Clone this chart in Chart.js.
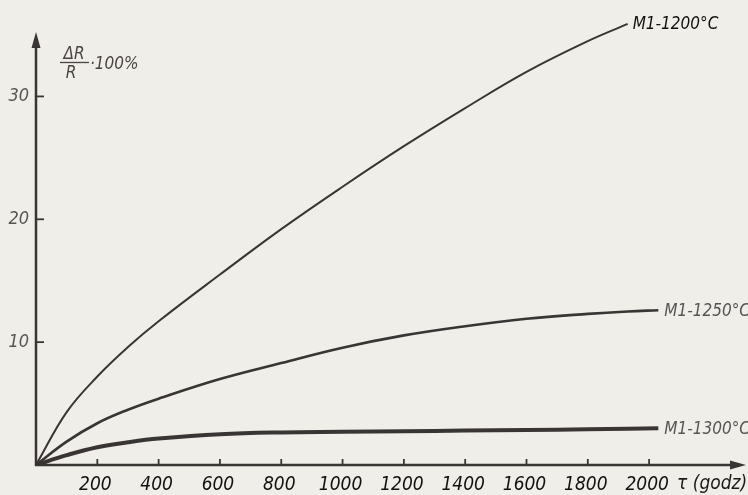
<!DOCTYPE html>
<html>
<head>
<meta charset="utf-8">
<script src="https://cdn.jsdelivr.net/npm/chart.js@4/dist/chart.umd.min.js"></script>
<style>
html,body{margin:0;padding:0;background:#f0eee8;}
#wrap{width:748px;height:495px;position:relative;}
</style>
</head>
<body>
<div id="wrap"><canvas id="c" width="748" height="495"></canvas></div>
<script>
// hours (tau)
const hours = [0, 100, 200, 300, 400, 600, 800, 1000, 1200, 1400, 1600, 1800, 1930, 2030];
// dR/R * 100 %
const m1_1200 = [0, 4.3, 7.2, 9.6, 11.7, 15.5, 19.2, 22.65, 25.95, 29.05, 32.0, 34.5, 35.9];
const m1_1250 = [0, 1.9, 3.4, 4.5, 5.4, 7.0, 8.3, 9.55, 10.55, 11.3, 11.9, 12.3, 12.5, 12.6];
const m1_1300 = [0, 0.8, 1.45, 1.85, 2.15, 2.5, 2.65, 2.7, 2.75, 2.8, 2.85, 2.9, 2.95, 3.0];
const xTickLabels = [200, 400, 600, 800, 1000, 1200, 1400, 1600, 1800, 2000];
const yTickLabels = [10, 20, 30];
const seriesNames = ['M1-1200°C', 'M1-1250°C', 'M1-1300°C'];

const INK = '#3a3535';
const FONT = '"DejaVu Sans Condensed", "DejaVu Sans", sans-serif';

function pts(vals){ return vals.map((v,i)=>({x:hours[i], y:v})); }

const decor = {
  id:'decor',
  beforeDraw(chart){
    const c = chart.ctx;
    c.save();
    c.fillStyle = '#f0eee8';
    c.fillRect(0,0,chart.width,chart.height);
    c.restore();
  },
  afterDraw(chart){
    const c = chart.ctx, xs = chart.scales.x, ys = chart.scales.y;
    const x0 = xs.getPixelForValue(0), y0 = ys.getPixelForValue(0);
    c.save();
    c.strokeStyle = INK; c.fillStyle = INK; c.lineWidth = 2.5;
    // y axis
    const yTop = 32;
    c.beginPath(); c.moveTo(x0, y0+1); c.lineTo(x0, yTop+12); c.stroke();
    c.beginPath(); c.moveTo(x0, yTop); c.lineTo(x0-4.5, yTop+16); c.lineTo(x0+4.5, yTop+16); c.closePath(); c.fill();
    // x axis
    const xEnd = xs.right;
    c.beginPath(); c.moveTo(x0-1, y0); c.lineTo(xEnd-12, y0); c.stroke();
    c.beginPath(); c.moveTo(xEnd, y0); c.lineTo(xEnd-16, y0-4.5); c.lineTo(xEnd-16, y0+4.5); c.closePath(); c.fill();
    // tick marks
    c.lineWidth = 1.8;
    xTickLabels.forEach(v=>{ const px = xs.getPixelForValue(v); c.beginPath(); c.moveTo(px, y0); c.lineTo(px, y0-6); c.stroke(); });
    yTickLabels.forEach(v=>{ const py = ys.getPixelForValue(v); c.beginPath(); c.moveTo(x0, py); c.lineTo(x0+8, py); c.stroke(); });
    // axis titles
    c.font = 'italic 17px ' + FONT;
    c.textBaseline = 'alphabetic'; c.textAlign = 'center';
    c.fillStyle = '#4a4444';
    c.fillText('ΔR', 74, 59);
    c.fillText('R', 71, 78);
    c.lineWidth = 1.3; c.strokeStyle = '#4a4444';
    c.beginPath(); c.moveTo(60, 62.5); c.lineTo(89, 62.5); c.stroke();
    c.textAlign = 'left';
    c.fillText('·100%', 90, 69);
    c.font = 'italic 19px ' + FONT;
    c.fillStyle = '#1a1a1a';
    c.textBaseline = 'middle';
    c.fillText('τ (godz)', 677, 484);
    // series labels at line ends
    c.font = 'italic 17px ' + FONT;
    const ends = [[m1_1200, '#111', 3], [m1_1250, '#555', 4], [m1_1300, '#555', 4]];
    ends.forEach((e,i)=>{
      const arr = e[0], last = arr.length-1;
      const px = xs.getPixelForValue(hours[last]) + e[2];
      const py = ys.getPixelForValue(arr[last]);
      c.fillStyle = e[1];
      c.fillText(seriesNames[i], px+2, py+1);
    });
    c.restore();
  }
};

new Chart(document.getElementById('c'), {
  type:'line',
  data:{
    datasets:[
      {label:seriesNames[0], data:pts(m1_1200), borderColor:INK, borderWidth:2, pointRadius:0, tension:0.4, fill:false},
      {label:seriesNames[1], data:pts(m1_1250), borderColor:INK, borderWidth:2.6, pointRadius:0, tension:0.4, fill:false},
      {label:seriesNames[2], data:pts(m1_1300), borderColor:INK, borderWidth:4, pointRadius:0, tension:0.4, fill:false}
    ]
  },
  options:{
    responsive:false, animation:false,
    layout:{padding:{top:3, right:2, left:0, bottom:0}},
    plugins:{legend:{display:false}, tooltip:{enabled:false}},
    scales:{
      x:{type:'linear', min:0, max:2316,
        grid:{display:false, drawTicks:false, tickLength:0}, border:{display:false},
        afterFit(s){ s.height = 30; },
        afterBuildTicks(s){ s.ticks = xTickLabels.map(v=>({value:v})); },
        ticks:{autoSkip:false, maxRotation:0, padding:9, labelOffset:-2, color:'#111', font:{family:FONT, size:19, style:'italic'},
          callback:(v)=>String(v)}
      },
      y:{type:'linear', min:0, max:36.4,
        grid:{display:false, drawTicks:false, tickLength:0}, border:{display:false},
        afterFit(s){ s.width = 36; },
        afterBuildTicks(s){ s.ticks = yTickLabels.map(v=>({value:v})); },
        ticks:{padding:7, color:'#555', font:{family:FONT, size:18, style:'italic'}, callback:(v)=>String(v)}
      }
    }
  },
  plugins:[decor]
});
</script>
</body>
</html>
